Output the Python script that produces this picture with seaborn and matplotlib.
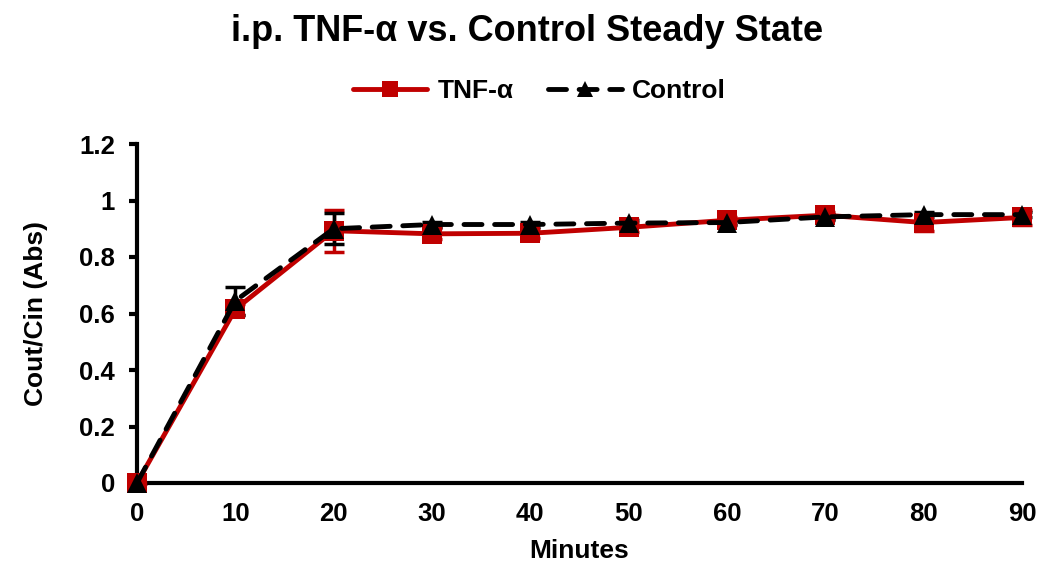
import numpy as np
import pandas as pd
import matplotlib
matplotlib.use("Agg")
import matplotlib.pyplot as plt
import seaborn as sns

minutes = [0, 10, 20, 30, 40, 50, 60, 70, 80, 90]
tnf_mean = [0.0, 0.615, 0.893, 0.882, 0.884, 0.905, 0.930, 0.948, 0.922, 0.940]
tnf_err = [0.0, 0.02, 0.075, 0.02, 0.015, 0.015, 0.012, 0.012, 0.03, 0.025]
ctrl_mean = [0.0, 0.645, 0.900, 0.915, 0.915, 0.920, 0.922, 0.942, 0.950, 0.950]
ctrl_err = [0.0, 0.05, 0.055, 0.01, 0.01, 0.01, 0.01, 0.01, 0.01, 0.01]

df = pd.DataFrame({
    "Minutes": minutes * 2,
    "value": tnf_mean + ctrl_mean,
    "group": ["TNF-α"] * len(minutes) + ["Control"] * len(minutes),
})

sns.set_style("white")
plt.rcParams["font.family"] = ["Liberation Sans", "DejaVu Sans"]
plt.rcParams["font.weight"] = "bold"
plt.rcParams["text.color"] = "black"
plt.rcParams["axes.labelcolor"] = "black"
plt.rcParams["xtick.color"] = "black"
plt.rcParams["ytick.color"] = "black"

fig = plt.figure(figsize=(10.54, 5.64), dpi=100)
ax = fig.add_axes([137 / 1054, 1 - 483 / 564, (1022 - 137) / 1054, (483 - 144) / 564])

red = "#C00000"
lw = 3.5
ms = 15
dash = (3.7, 2.6)

# error bars first so lines/markers sit on top
ax.errorbar(minutes, tnf_mean, yerr=tnf_err, fmt="none", ecolor=red,
            elinewidth=2.5, capsize=7, capthick=2.5, zorder=2, clip_on=False)
ax.errorbar(minutes, ctrl_mean, yerr=ctrl_err, fmt="none", ecolor="black",
            elinewidth=2.5, capsize=7, capthick=2.5, zorder=3, clip_on=False)

sns.lineplot(data=df, x="Minutes", y="value", hue="group", style="group",
             palette={"TNF-α": red, "Control": "black"},
             dashes={"TNF-α": "", "Control": dash},
             markers={"TNF-α": "s", "Control": "^"},
             markersize=ms, markeredgewidth=0, linewidth=lw,
             ax=ax, legend=False, clip_on=False, zorder=4)
for ln in ax.get_lines():
    ln.set_dash_capstyle("round")

ax.set_xlim(0, 90)
ax.set_ylim(0, 1.2)
ax.set_xticks(minutes)
ax.set_yticks([0, 0.2, 0.4, 0.6, 0.8, 1.0, 1.2])
ax.set_yticklabels(["0", "0.2", "0.4", "0.6", "0.8", "1", "1.2"])
ax.tick_params(axis="y", which="major", direction="out", length=6, width=3,
               labelsize=18.5, pad=10, left=True)
ax.tick_params(axis="x", length=0, labelsize=18.5, pad=14)
for lbl in ax.get_xticklabels() + ax.get_yticklabels():
    lbl.set_fontweight("bold")

for side in ["top", "right"]:
    ax.spines[side].set_visible(False)
for side in ["left", "bottom"]:
    ax.spines[side].set_linewidth(3)
    ax.spines[side].set_color("black")
    ax.spines[side].set_zorder(1)

ax.set_xlabel("Minutes", fontsize=19, fontweight="bold", labelpad=9)
ax.set_ylabel("Cout/Cin (Abs)", fontsize=19, fontweight="bold", labelpad=22)

fig.suptitle("i.p. TNF-α vs. Control Steady State", fontsize=26,
             fontweight="bold", y=0.975)

handles = [
    plt.Line2D([], [], color=red, linewidth=lw, marker="s", markersize=12,
               markeredgewidth=0),
    plt.Line2D([], [], color="black", linewidth=lw, linestyle=(0, dash),
               dash_capstyle="round", marker="^", markersize=12,
               markeredgewidth=0),
]
fig.legend(handles, ["TNF-α", "Control"], loc="center", ncol=2,
           bbox_to_anchor=(0.512, 0.838), frameon=False,
           prop={"size": 19, "weight": "bold"}, handlelength=2.8,
           columnspacing=1.3, handletextpad=0.4)

fig.savefig("out.png", dpi=100)
